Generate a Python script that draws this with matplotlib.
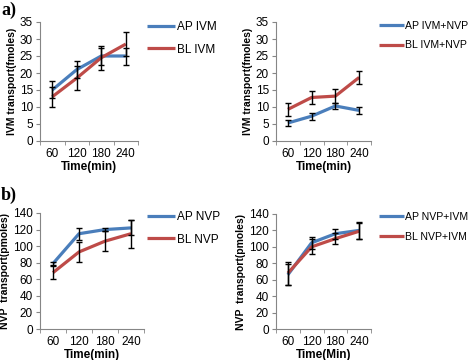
import matplotlib
matplotlib.use("Agg")
import matplotlib.pyplot as plt
import numpy as np

plt.rcParams['font.family'] = ['Liberation Sans', 'DejaVu Sans']

times = ["60", "120", "180", "240"]

# Panel a-left: IVM
ap_ivm = [15, 21, 25, 25]
ap_ivm_err = [2.5, 2.5, 2.5, 2.5]
bl_ivm = [13, 18.5, 24.5, 28.5]
bl_ivm_err = [3, 3.5, 3.5, 3.5]

# Panel a-right: IVM+NVP
ap_ivm_nvp = [5.3, 7.3, 10.3, 9.0]
ap_ivm_nvp_err = [1.0, 1.0, 1.0, 1.0]
bl_ivm_nvp = [9.3, 12.8, 13.2, 18.7]
bl_ivm_nvp_err = [2.0, 1.8, 2.0, 1.8]

# Panel b-left: NVP
ap_nvp = [79, 115, 120, 122]
ap_nvp_err = [2, 7, 2, 9]
bl_nvp = [68, 93, 106, 115]
bl_nvp_err = [8, 12, 12, 17]

# Panel b-right: NVP+IVM
ap_nvp_ivm = [66, 105, 116, 120]
ap_nvp_ivm_err = [13, 7, 6, 10]
bl_nvp_ivm = [68, 100, 110, 119]
bl_nvp_ivm_err = [14, 9, 7, 10]

BLUE = "#4A7EBB"
RED = "#BE4B48"
GRAY = "#868686"

W, H = 473, 360
fig = plt.figure(figsize=(W / 100, H / 100), dpi=100)


def make_ax(l, t, r, b):
    return fig.add_axes([l / W, 1 - b / H, (r - l) / W, (b - t) / H])


def panel(ax, ap, ape, bl, ble, labels, ylim, yticks, ylabel, xlabel, leg_xy, leg_size):
    x = np.arange(len(times))
    l1, = ax.plot(x, ap, color=BLUE, lw=2.3, solid_capstyle='butt', zorder=3)
    l2, = ax.plot(x, bl, color=RED, lw=2.3, solid_capstyle='butt', zorder=3)
    ax.errorbar(x, ap, yerr=ape, fmt='none', ecolor='black', elinewidth=1.0,
                capsize=2.5, capthick=1.0, zorder=4)
    ax.errorbar(x, bl, yerr=ble, fmt='none', ecolor='black', elinewidth=1.0,
                capsize=2.5, capthick=1.0, zorder=4)
    ax.set_xlim(-0.5, len(times) - 0.5)
    ax.set_ylim(*ylim)
    ax.set_yticks(yticks)
    ax.set_xticks(x)
    ax.set_xticklabels(times)
    ax.set_xticks(np.arange(len(times) + 1) - 0.5, minor=True)
    ax.tick_params(axis='x', which='major', length=0, labelsize=8.5, pad=5)
    ax.tick_params(axis='x', which='minor', length=3, color=GRAY, direction='out')
    ax.tick_params(axis='y', length=3, color=GRAY, direction='out', labelsize=8.5, pad=2)
    for s in ['top', 'right']:
        ax.spines[s].set_visible(False)
    for s in ['left', 'bottom']:
        ax.spines[s].set_color(GRAY)
        ax.spines[s].set_linewidth(0.8)
    ax.set_ylabel(ylabel, fontsize=7.5, fontweight='bold', labelpad=2)
    ax.set_xlabel(xlabel, fontsize=8.5, fontweight='bold', labelpad=1)
    fig.legend([l1, l2], labels, loc='upper left',
               bbox_to_anchor=(leg_xy[0] / W, 1 - leg_xy[1] / H),
               frameon=False, fontsize=leg_size,
               handlelength=2.4, handletextpad=0.1,
               labelspacing=0.9, borderpad=0, borderaxespad=0)


ax1 = make_ax(40, 22, 138, 141)
panel(ax1, ap_ivm, ap_ivm_err, bl_ivm, bl_ivm_err, ["AP IVM", "BL IVM"],
      (0, 35), range(0, 36, 5), "IVM transport(fmoles)", "Time(min)", (147, 21), 8.5)

ax2 = make_ax(276, 22, 371, 141)
panel(ax2, ap_ivm_nvp, ap_ivm_nvp_err, bl_ivm_nvp, bl_ivm_nvp_err,
      ["AP IVM+NVP", "BL IVM+NVP"],
      (0, 35), range(0, 36, 5), "IVM transport(fmoles)", "Time(min)", (379, 21), 7.6)

ax3 = make_ax(40, 213, 144, 329)
panel(ax3, ap_nvp, ap_nvp_err, bl_nvp, bl_nvp_err, ["AP NVP", "BL NVP"],
      (0, 140), range(0, 141, 20), "NVP  transport(pmoles)", "Time(min)", (147, 211), 8.5)

ax4 = make_ax(276, 214, 371, 329)
panel(ax4, ap_nvp_ivm, ap_nvp_ivm_err, bl_nvp_ivm, bl_nvp_ivm_err,
      ["AP NVP+IVM", "BL NVP+IVM"],
      (0, 140), range(0, 141, 20), "NVP  transport(pmoles)", "Time(Min)", (379, 212), 7.6)

fig.text(1 / W, 1 - 10 / H, "a)", fontsize=13, fontweight='bold',
         family=['Liberation Serif', 'DejaVu Serif'], va='center', ha='left')
fig.text(1 / W, 1 - 195 / H, "b)", fontsize=13, fontweight='bold',
         family=['Liberation Serif', 'DejaVu Serif'], va='center', ha='left')

fig.savefig("out.png", dpi=100)
